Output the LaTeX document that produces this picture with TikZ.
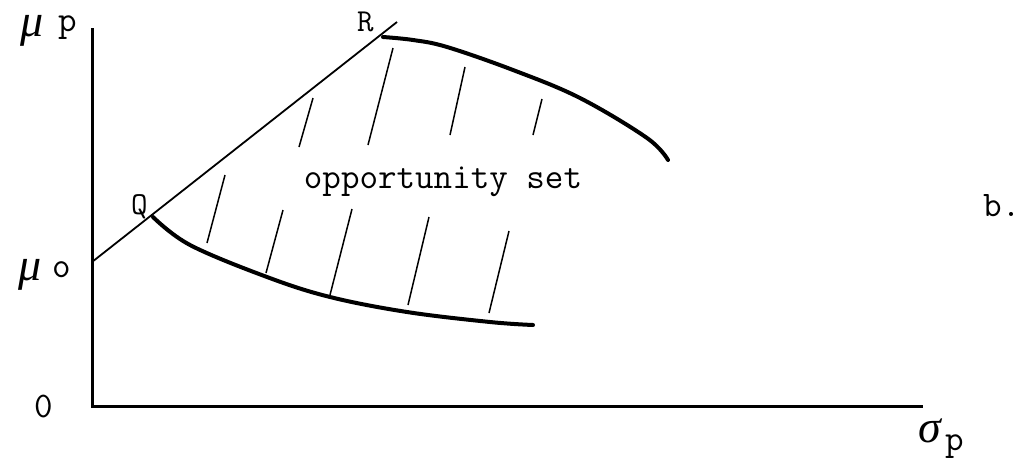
\documentclass[tikz,border=0pt]{standalone}
\usepackage{fontspec}
\newfontfamily\grk{Liberation Serif}
\begin{document}
\begin{tikzpicture}[x=1pt,y=-1pt,
  tt/.style={font=\fontsize{36}{36}\selectfont\ttfamily, inner sep=0pt},
  lab/.style={font=\fontsize{32}{32}\selectfont\ttfamily, inner sep=0pt},
  greek/.style={font=\fontsize{46}{46}\selectfont\grk\itshape, inner sep=0pt, text height=22pt, text depth=10pt},
  axisline/.style={line width=3pt},
  thinline/.style={line width=1.8pt},
  curve/.style={line width=4pt, line cap=round, line join=round},
  hatch/.style={line width=1.5pt}]
\useasboundingbox (0,0) rectangle (1019,458);
% axes
\coordinate (top) at (92,28);
\coordinate (origin) at (92,406);
\coordinate (xend) at (923,406);
\draw[axisline] (top) -- (origin) -- (xend);
% line from mu0 through Q and R
\coordinate (mu0) at (92,262);
\coordinate (Qp) at (153,217);
\coordinate (Rp) at (383,36);
\coordinate (lineend) at (397,22);
\draw[thinline] (mu0) -- (lineend);
% upper curve
\draw[curve] plot[smooth, tension=0.6] coordinates {(383,37) (413,40) (447,47) (513,70) (580,98) (647,138) (668,160)};
% lower curve
\draw[curve] plot[smooth, tension=0.6] coordinates {(153,217) (190,245) (267,277) (330,297) (407,312) (490,322) (533,325)};
% hatching
\draw[hatch] (313,98) -- (299,147);
\draw[hatch] (393,48) -- (368,145);
\draw[hatch] (465,67) -- (450,135);
\draw[hatch] (542,99) -- (533,135);
\draw[hatch] (225,175) -- (207,243);
\draw[hatch] (283,210) -- (266,273);
\draw[hatch] (352,209) -- (330,295);
\draw[hatch] (429,217) -- (408,305);
\draw[hatch] (509,231) -- (489,313);
% labels
\node[tt, anchor=base] (opp) at (443,188) {opportunity set};
\node[tt, anchor=base west] (blab) at (983,216) {b.};
\node[greek, anchor=base] (muP) at (32,36) {μ};
\node[tt, anchor=base west] (pP) at (58,31) {p};
\node[greek, anchor=base] (muO) at (30,280) {μ};
\node[tt, anchor=base west] (oO) at (52,277) {o};
\node[tt, anchor=base west] (zero) at (34,417) {0};
\node[greek, anchor=base] (sig) at (930,442) {σ};
\node[tt, anchor=base west] (pS) at (945,450) {p};
\node[lab, anchor=base west] (Rl) at (357,31) {R};
\node[lab, anchor=base west] (Ql) at (131,214) {Q};
\end{tikzpicture}
\end{document}
